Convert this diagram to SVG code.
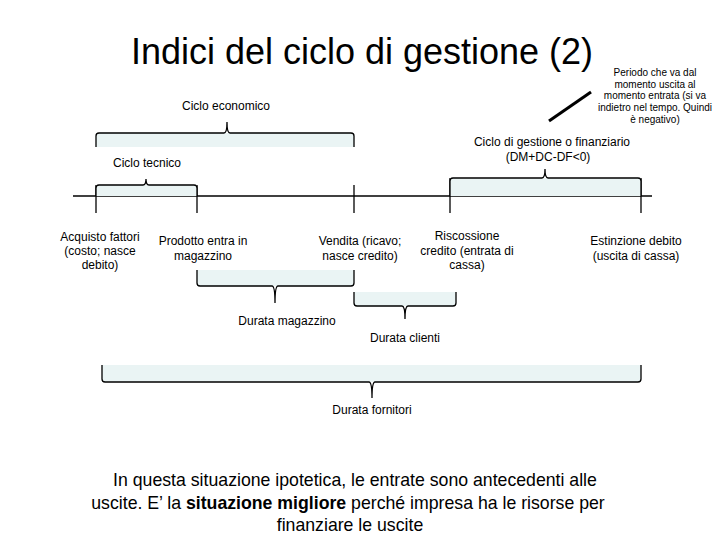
<svg xmlns="http://www.w3.org/2000/svg" width="720" height="540" viewBox="0 0 720 540">
<style>
text{font-family:"Liberation Sans",Arial,sans-serif;fill:#000}
.lbl{font-size:12px;text-anchor:middle}
.note{font-size:10px;text-anchor:middle}
.brace{fill:none;stroke:#000;stroke-width:1.3}
.shade{fill:#EAF4F4;stroke:none}
.tick{stroke:#000;stroke-width:1.3}
</style>
<rect width="720" height="540" fill="#fff"/>
<text x="362" y="64" font-size="36" text-anchor="middle">Indici del ciclo di gestione (2)</text>

<g id="note">
<text class="note" x="655" y="76">Periodo che va dal</text>
<text class="note" x="655" y="88">momento uscita al</text>
<text class="note" x="655" y="99">momento entrata (si va</text>
<text class="note" x="655" y="111">indietro nel tempo. Quindi</text>
<text class="note" x="655" y="123">è negativo)</text>
</g>

<g id="connectors">
<line x1="591" y1="92" x2="549" y2="121" stroke="#000" stroke-width="3"/>
<line x1="73" y1="196" x2="652" y2="196" stroke="#000" stroke-width="1.3"/>
<line class="tick" x1="96" y1="185" x2="96" y2="213"/>
<line class="tick" x1="197" y1="185" x2="197" y2="213"/>
<line class="tick" x1="354" y1="185" x2="354" y2="213"/>
<line class="tick" x1="450" y1="178" x2="450" y2="213"/>
<line class="tick" x1="641" y1="178" x2="641" y2="213"/>
</g>

<g id="ciclo-economico">
<rect class="shade" x="96" y="133" width="258" height="14"/>
<path class="brace" d="M96,147 L96,136 Q96,133 99,133 L224,133 Q227,133 227,122 Q227,133 230,133 L351,133 Q354,133 354,136 L354,147"/>
<text class="lbl" x="226" y="110">Ciclo economico</text>
</g>

<g id="ciclo-tecnico">
<rect class="shade" x="96" y="185" width="101" height="11"/>
<path class="brace" d="M96,196 L96,188 Q96,185 99,185 L143,185 Q146,185 146,179 Q146,185 149,185 L194,185 Q197,185 197,188 L197,196"/>
<text class="lbl" x="147" y="167">Ciclo tecnico</text>
</g>

<g id="ciclo-gestione">
<rect class="shade" x="450" y="178" width="191" height="18"/>
<path class="brace" d="M450,196 L450,181 Q450,178 453,178 L542,178 Q545,178 545,169 Q545,178 548,178 L638,178 Q641,178 641,181 L641,196"/>
<text class="lbl" x="552" y="146">Ciclo di gestione o finanziario</text>
<text class="lbl" x="548" y="161">(DM+DC-DF&lt;0)</text>
</g>

<g id="acquisto">
<text class="lbl" x="100" y="241">Acquisto fattori</text>
<text class="lbl" x="100" y="255">(costo; nasce</text>
<text class="lbl" x="100" y="269">debito)</text>
</g>
<g id="prodotto">
<text class="lbl" x="203" y="245">Prodotto entra in</text>
<text class="lbl" x="203" y="260">magazzino</text>
</g>
<g id="vendita">
<text class="lbl" x="360" y="245">Vendita (ricavo;</text>
<text class="lbl" x="360" y="260">nasce credito)</text>
</g>
<g id="riscossione">
<text class="lbl" x="467" y="240">Riscossione</text>
<text class="lbl" x="467" y="255">credito (entrata di</text>
<text class="lbl" x="467" y="269">cassa)</text>
</g>
<g id="estinzione">
<text class="lbl" x="636" y="245">Estinzione debito</text>
<text class="lbl" x="636" y="260">(uscita di cassa)</text>
</g>

<g id="durata-magazzino">
<rect class="shade" x="197" y="270" width="157" height="16"/>
<path class="brace" d="M197,270 L197,283 Q197,286 200,286 L272,286 Q275,286 275,303 Q275,286 278,286 L351,286 Q354,286 354,283 L354,270"/>
<text class="lbl" x="287" y="325">Durata magazzino</text>
</g>

<g id="durata-clienti">
<rect class="shade" x="354" y="292" width="102" height="14"/>
<path class="brace" d="M354,292 L354,303 Q354,306 357,306 L402,306 Q405,306 405,319 Q405,306 408,306 L453,306 Q456,306 456,303 L456,292"/>
<text class="lbl" x="405" y="342">Durata clienti</text>
</g>

<g id="durata-fornitori">
<rect class="shade" x="102" y="365" width="539" height="17"/>
<path class="brace" d="M102,365 L102,379 Q102,382 105,382 L369,382 Q372,382 372,398 Q372,382 375,382 L638,382 Q641,382 641,379 L641,365"/>
<text class="lbl" x="372" y="414">Durata fornitori</text>
</g>

<g id="conclusione" font-size="17.7" text-anchor="middle">
<text x="355" y="486">In questa situazione ipotetica, le entrate sono antecedenti alle</text>
<text x="348" y="509">uscite. E’ la <tspan font-weight="bold">situazione migliore</tspan> perché impresa ha le risorse per</text>
<text x="350" y="531">finanziare le uscite</text>
</g>
</svg>
